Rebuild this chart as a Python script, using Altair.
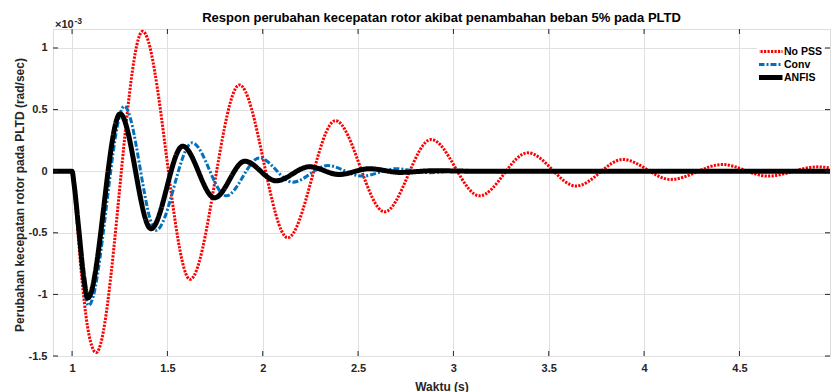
import altair as alt
import pandas as pd

# ---- data (values in units of 1e-3 rad/sec) ----
series_names = ["No PSS", "Conv", "ANFIS"]

t_nopss = [0.9, 1.0, 1.02, 1.05, 1.08, 1.126, 1.37, 1.619, 1.878, 2.131, 2.381, 2.639,
           2.883, 3.137, 3.39, 3.644, 3.889, 4.14, 4.41, 4.65, 4.91, 5.0]
v_nopss = [0.0, 0.0, -0.30, -0.85, -1.25, -1.472, 1.135, -0.878, 0.70, -0.54, 0.41, -0.33,
           0.257, -0.20, 0.149, -0.12, 0.095, -0.067, 0.054, -0.04, 0.035, 0.02]

t_conv = [0.9, 1.0, 1.035, 1.06, 1.087, 1.274, 1.44, 1.63, 1.808, 1.983, 2.157, 2.341,
          2.52, 2.70, 2.88, 3.06, 3.24, 3.5, 5.0]
v_conv = [0.0, 0.0, -0.50, -0.90, -1.09, 0.527, -0.48, 0.23, -0.20, 0.108, -0.089, 0.046,
          -0.04, 0.02, -0.012, 0.007, -0.004, 0.0, 0.0]

t_anfis = [0.9, 1.0, 1.01, 1.035, 1.062, 1.082, 1.252, 1.414, 1.58, 1.747, 1.906, 2.07,
           2.245, 2.40, 2.56, 2.72, 2.9, 3.1, 5.0]
v_anfis = [0.0, 0.0, -0.10, -0.47, -0.87, -1.03, 0.465, -0.467, 0.203, -0.216, 0.081, -0.078,
           0.036, -0.027, 0.02, -0.01, 0.004, 0.0, 0.0]

x_ticks = [1, 1.5, 2, 2.5, 3, 3.5, 4, 4.5]
y_ticks = [-1.5, -1, -0.5, 0, 0.5, 1]

title_text = "Respon perubahan kecepatan rotor akibat penambahan beban 5% pada PLTD"
x_title = "Waktu (s)"
y_title = "Perubahan kecepatan rotor pada PLTD (rad/sec)"

# ---- styling ----
colors = ["#FF0000", "#0072BD", "#000000"]
dashes = [[2.2, 1.3], [6, 2, 2, 2], [1, 0]]
widths = [3, 3, 5]
FONT = "Liberation Sans"
AX = "#262626"
W, H = 777, 327

rows = []
for name, ts, vs in [("No PSS", t_nopss, v_nopss), ("Conv", t_conv, v_conv), ("ANFIS", t_anfis, v_anfis)]:
    for t, v in zip(ts, vs):
        rows.append({"t": t, "v": v, "series": name})
df = pd.DataFrame(rows)

xscale = alt.Scale(domain=[0.9, 4.975], nice=False, zero=False)
yscale = alt.Scale(domain=[-1.5, 1.154], nice=False, zero=False)

legend = alt.Legend(title=None, orient="none", legendX=704, legendY=14,
                    symbolType="M-6,0H6", symbolSize=36, labelFont=FONT,
                    labelFontSize=10.5, labelFontWeight="bold", labelColor="#000000",
                    fillColor="white", padding=2, rowPadding=0, labelOffset=14,
                    clipHeight=13)

x_axis = alt.Axis(values=x_ticks, labelExpr="datum.value + ''", tickSize=0,
                  domain=False, grid=True, gridColor="#E0E0E0",
                  labelFont=FONT, labelFontSize=11, labelFontWeight="bold",
                  labelColor=AX, labelPadding=6,
                  titleFont=FONT, titleFontSize=12, titleFontWeight="bold",
                  titleColor=AX, titleY=34.5, titleBaseline="alphabetic")
y_axis = alt.Axis(values=y_ticks, labelExpr="datum.value + ''", tickSize=0,
                  domain=False, grid=True, gridColor="#E0E0E0",
                  labelFont=FONT, labelFontSize=11, labelFontWeight="bold",
                  labelColor=AX, labelPadding=6,
                  titleFont=FONT, titleFontSize=12, titleFontWeight="bold",
                  titleColor=AX, titleX=-30, titleY=H / 2 + 2, titleAngle=-90,
                  titleAlign="center", titleBaseline="alphabetic")

base = alt.Chart(df)

def line_layer(name):
    return base.transform_filter(alt.datum.series == name).mark_line(
        interpolate="monotone", clip=True, strokeCap="butt"
    ).encode(
        x=alt.X("t:Q", scale=xscale, title=x_title, axis=x_axis),
        y=alt.Y("v:Q", scale=yscale, title=y_title, axis=y_axis),
        color=alt.Color("series:N", scale=alt.Scale(domain=series_names, range=colors), legend=legend),
        strokeDash=alt.StrokeDash("series:N", scale=alt.Scale(domain=series_names, range=dashes), legend=legend),
        strokeWidth=alt.StrokeWidth("series:N", scale=alt.Scale(type="ordinal", domain=series_names, range=widths), legend=legend),
    )

lines = [line_layer(n) for n in series_names]

xt = pd.DataFrame({"t": x_ticks})
yt = pd.DataFrame({"v": y_ticks})
tick_bottom = alt.Chart(xt).mark_rule(color=AX, strokeWidth=1).encode(
    x=alt.X("t:Q"), y=alt.value(H), y2=alt.value(H - 5))
tick_top = alt.Chart(xt).mark_rule(color=AX, strokeWidth=1).encode(
    x=alt.X("t:Q"), y=alt.value(0), y2=alt.value(5))
tick_left = alt.Chart(yt).mark_rule(color=AX, strokeWidth=1).encode(
    y=alt.Y("v:Q"), x=alt.value(0), x2=alt.value(5))
tick_right = alt.Chart(yt).mark_rule(color=AX, strokeWidth=1).encode(
    y=alt.Y("v:Q"), x=alt.value(W), x2=alt.value(W - 5))

title_mark = alt.Chart(pd.DataFrame({"s": [title_text]})).mark_text(
    align="center", baseline="alphabetic", font=FONT, fontSize=13, fontWeight="bold", color="#000000"
).encode(text="s:N", x=alt.value(W / 2), y=alt.value(-7))
mult = alt.Chart(pd.DataFrame({"s": ["×10"]})).mark_text(
    align="left", baseline="alphabetic", font=FONT, fontSize=11, fontWeight="bold", color=AX
).encode(text="s:N", x=alt.value(2), y=alt.value(-1.5))
mult_exp = alt.Chart(pd.DataFrame({"s": ["-3"]})).mark_text(
    align="left", baseline="alphabetic", font=FONT, fontSize=8.5, fontWeight="bold", color=AX
).encode(text="s:N", x=alt.value(21.5), y=alt.value(-5))

chart = alt.layer(
    *lines, tick_bottom, tick_top, tick_left, tick_right, title_mark, mult, mult_exp
).properties(
    width=W, height=H,
    autosize=alt.AutoSizeParams(type="none"),
    padding={"left": 53, "top": 29, "right": 1, "bottom": 36},
).configure_view(stroke=AX, strokeWidth=1).configure(background="white")

chart.save("out.html", embed_options={"renderer": "svg", "actions": False})
